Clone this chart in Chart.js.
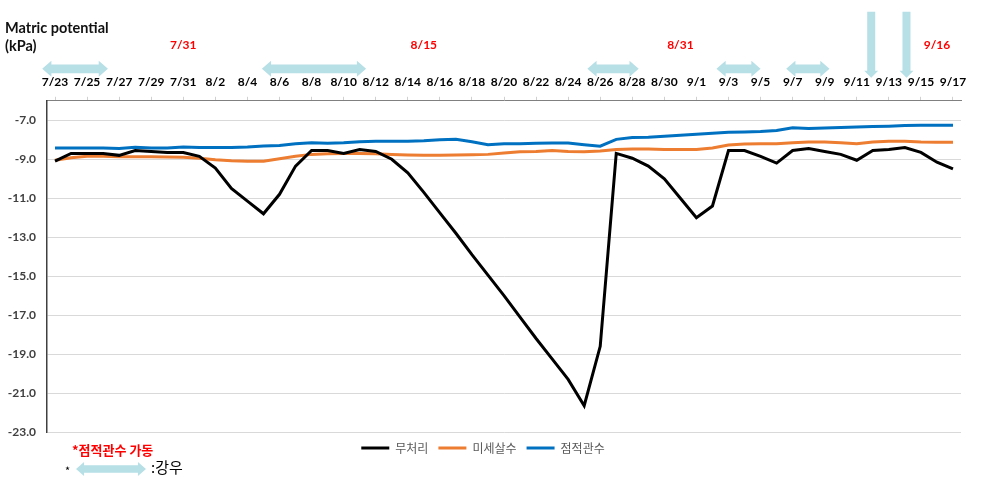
<!DOCTYPE html>
<html>
<head>
<meta charset="utf-8">
<script src="https://cdn.jsdelivr.net/npm/chart.js@4/dist/chart.umd.min.js"></script>
<style>
  html, body { margin: 0; padding: 0; background: #fff; }
  #wrap { width: 1004px; height: 482px; }
</style>
</head>
<body>
<div id="wrap"><canvas id="chart"></canvas></div>
<script>
// daily readings 7/23 ~ 9/17
const days = [
  '7/23','7/24','7/25','7/26','7/27','7/28','7/29','7/30','7/31',
  '8/1','8/2','8/3','8/4','8/5','8/6','8/7','8/8','8/9','8/10','8/11','8/12','8/13','8/14','8/15','8/16',
  '8/17','8/18','8/19','8/20','8/21','8/22','8/23','8/24','8/25','8/26','8/27','8/28','8/29','8/30','8/31',
  '9/1','9/2','9/3','9/4','9/5','9/6','9/7','9/8','9/9','9/10','9/11','9/12','9/13','9/14','9/15','9/16','9/17'
]

// 무처리
const control = [
  -9.1, -8.7, -8.7, -8.7, -8.8, -8.55, -8.6, -8.65, -8.65,
  -8.85, -9.45, -10.5, -11.15, -11.8, -10.8, -9.35, -8.55, -8.55, -8.7, -8.5, -8.6, -9.0, -9.7, -10.7, -11.75,
  -12.8, -13.9, -14.95, -16.0, -17.1, -18.2, -19.25, -20.3, -21.65, -18.6, -8.7, -8.95, -9.35, -10.0, -11.0,
  -12.0, -11.4, -8.55, -8.55, -8.85, -9.2, -8.55, -8.45, -8.6, -8.75, -9.05, -8.55, -8.5, -8.4, -8.65, -9.15, -9.5
]

// 미세살수
const mist = [
  -9.05, -8.92, -8.85, -8.85, -8.87, -8.87, -8.87, -8.88, -8.9,
  -8.95, -9.03, -9.08, -9.1, -9.1, -8.98, -8.85, -8.75, -8.72, -8.7, -8.7, -8.72, -8.75, -8.78, -8.8, -8.8,
  -8.78, -8.77, -8.75, -8.68, -8.62, -8.6, -8.55, -8.6, -8.62, -8.58, -8.5, -8.47, -8.48, -8.5, -8.5,
  -8.5, -8.42, -8.27, -8.22, -8.2, -8.2, -8.15, -8.12, -8.12, -8.15, -8.2, -8.12, -8.08, -8.08, -8.12, -8.13, -8.13
]

// 점적관수
const drip = [
  -8.42, -8.42, -8.42, -8.42, -8.45, -8.38, -8.42, -8.42, -8.37,
  -8.4, -8.4, -8.4, -8.37, -8.32, -8.3, -8.2, -8.15, -8.18, -8.15, -8.1, -8.08, -8.07, -8.07, -8.05, -8.0,
  -7.97, -8.1, -8.25, -8.2, -8.2, -8.18, -8.17, -8.17, -8.25, -8.33, -7.98, -7.88, -7.87, -7.82, -7.77,
  -7.72, -7.67, -7.62, -7.6, -7.58, -7.52, -7.38, -7.42, -7.4, -7.37, -7.35, -7.32, -7.3, -7.27, -7.26, -7.26, -7.26
]

const yTicks = [-23, -21, -19, -17, -15, -13, -11, -9, -7]

// 점적관수 가동 dates (red labels over the axis)
const dripOnDays = ['7/31', '8/15', '8/31', '9/16']
// 강우 periods, in day positions (from, to)
const rainSpans = [[-0.8, 3.3], [12.9, 19.4], [33.2, 36.4], [41.25, 44], [45.6, 48.3]]
// single heavy rain days, drawn as down arrows
const rainDrops = [50.9, 53.1]

const ARROW = '#b7dfe6'
const KR = "'Noto Sans CJK KR', sans-serif"

Chart.defaults.font.family = "Lato, 'Noto Sans CJK KR', sans-serif"

function hArrow(ctx, x1, x2, y, half) {
  const shaft = half * 0.55
  const head = half * 1.15
  ctx.beginPath()
  ctx.moveTo(x1, y)
  ctx.lineTo(x1 + head, y - half)
  ctx.lineTo(x1 + head, y - shaft)
  ctx.lineTo(x2 - head, y - shaft)
  ctx.lineTo(x2 - head, y - half)
  ctx.lineTo(x2, y)
  ctx.lineTo(x2 - head, y + half)
  ctx.lineTo(x2 - head, y + shaft)
  ctx.lineTo(x1 + head, y + shaft)
  ctx.lineTo(x1 + head, y + half)
  ctx.closePath()
  ctx.fill()
}

function vArrow(ctx, x, y1, y2) {
  ctx.beginPath()
  ctx.moveTo(x - 4, y1)
  ctx.lineTo(x + 4, y1)
  ctx.lineTo(x + 4, y2 - 7)
  ctx.lineTo(x + 7, y2 - 7)
  ctx.lineTo(x, y2)
  ctx.lineTo(x - 7, y2 - 7)
  ctx.lineTo(x - 4, y2 - 7)
  ctx.closePath()
  ctx.fill()
}

const notes = {
  id: 'notes',
  afterDraw(chart) {
    const ctx = chart.ctx
    const x = chart.scales.x
    const top = chart.chartArea.top
    ctx.save()

    // rain arrows above the date labels
    ctx.fillStyle = ARROW
    rainSpans.forEach(([a, b]) => hArrow(ctx, x.getPixelForValue(a), x.getPixelForValue(b), top - 32, 8))
    rainDrops.forEach(d => vArrow(ctx, x.getPixelForValue(d), top - 89, top - 23))

    // drip irrigation start days
    ctx.fillStyle = '#ff0000'
    ctx.font = 'bold 12px Lato, sans-serif'
    ctx.textAlign = 'center'
    ctx.textBaseline = 'middle'
    dripOnDays.forEach(d => ctx.fillText(d, x.getPixelForValue(days.indexOf(d)), top - 56))

    // footnotes
    ctx.textAlign = 'left'
    ctx.font = 'bold 13px ' + KR
    ctx.fillText('*점적관수 가동', 72, 450)
    ctx.fillStyle = '#000'
    ctx.font = '11px ' + KR
    ctx.fillText('*', 65, 471)
    ctx.fillStyle = ARROW
    hArrow(ctx, 76, 146, 469, 7)
    ctx.fillStyle = '#000'
    ctx.font = '15px ' + KR
    ctx.fillText(':강우', 151, 467)
    ctx.restore()
  }
}

new Chart(document.getElementById('chart'), {
  type: 'line',
  data: {
    labels: days,
    datasets: [
      { label: '무처리', data: control, borderColor: '#000000', backgroundColor: '#000000' },
      { label: '미세살수', data: mist, borderColor: '#ed7d31', backgroundColor: '#ed7d31' },
      { label: '점적관수', data: drip, borderColor: '#0070c0', backgroundColor: '#0070c0' }
    ]
  },
  options: {
    responsive: true,
    maintainAspectRatio: false,
    animation: false,
    elements: {
      line: { borderWidth: 3, tension: 0 },
      // point borderWidth is what the legend line sample uses
      point: { radius: 0, hoverRadius: 0, borderWidth: 3, pointStyle: 'line' }
    },
    layout: { padding: { left: 5, right: 43, top: 12, bottom: 18 } },
    plugins: {
      tooltip: { enabled: false },
      title: {
        display: true,
        align: 'start',
        text: ['Matric potential', '(kPa)'],
        color: '#111',
        font: { size: 14.5, weight: 'bold' },
        padding: { top: 8, bottom: 8 }
      },
      legend: {
        position: 'bottom',
        labels: {
          usePointStyle: true,
          pointStyle: 'line',
          pointStyleWidth: 28,
          padding: 10,
          color: '#595959',
          font: { size: 12, family: KR }
        }
      }
    },
    scales: {
      x: {
        position: 'top',
        offset: true,
        grid: {
          drawOnChartArea: false,
          tickLength: 4,
          color: ctx => ctx.index % 2 === 0 ? '#d0d0d0' : 'rgba(0,0,0,0)'
        },
        border: { color: '#808080' },
        ticks: {
          autoSkip: false,
          maxRotation: 0,
          minRotation: 0,
          padding: 7,
          color: '#000',
          font: { size: 12, weight: 'bold' },
          callback: (v, i) => i % 2 === 0 ? days[i] : ''
        },
        afterFit: s => { s.height = 38 }
      },
      y: {
        min: -23,
        max: -6,
        afterBuildTicks: s => { s.ticks = yTicks.map(v => ({ value: v })) },
        grid: { color: '#d9d9d9', drawTicks: false },
        border: { color: '#404040', width: 1.5 },
        ticks: {
          padding: 11,
          color: '#404040',
          font: { size: 12, weight: 'bold' },
          callback: v => v.toFixed(1)
        },
        afterFit: s => { s.width = 42 }
      }
    }
  },
  plugins: [notes]
})
</script>
</body>
</html>
